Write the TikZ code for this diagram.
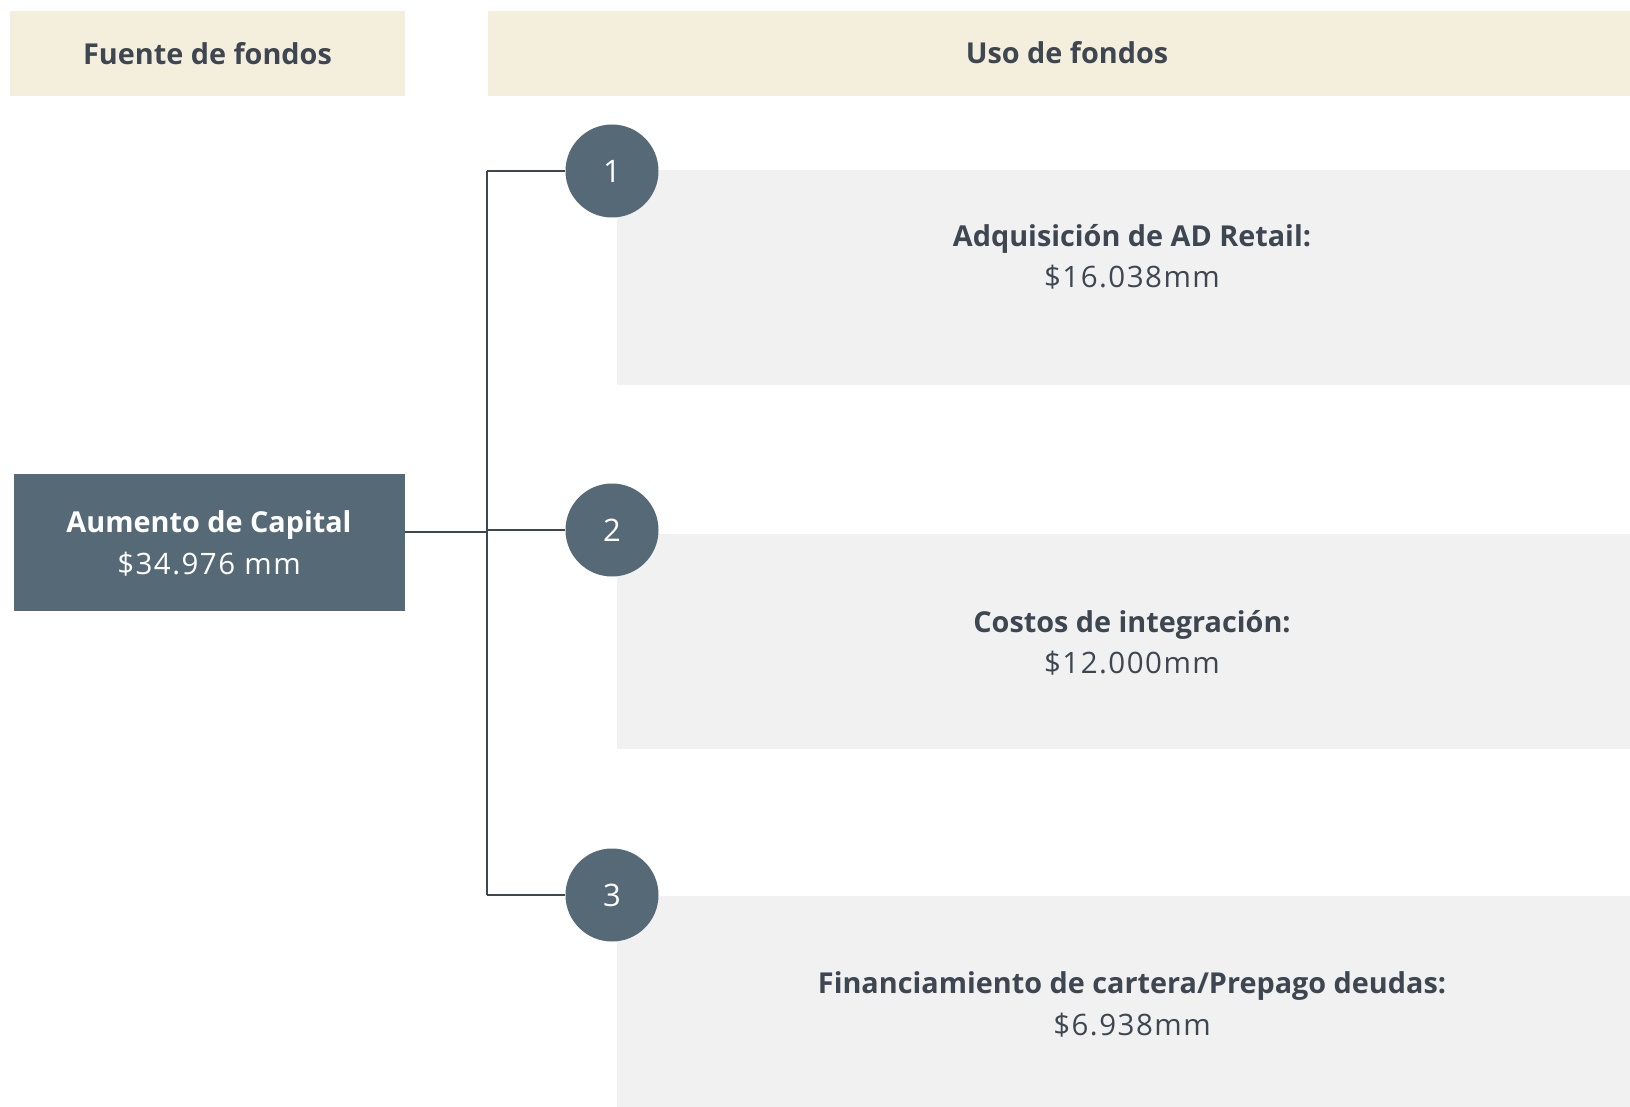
\documentclass[tikz,border=0pt]{standalone}
\usepackage{fontspec}
\setmainfont{Open Sans}
\newfontfamily\numfont[LetterSpace=5]{Open Sans}
\usepackage{tikz}
\definecolor{slate}{HTML}{566977}
\definecolor{ink}{HTML}{3E4751}
\definecolor{beige}{HTML}{F4EEDD}
\definecolor{pale}{HTML}{F1F1F1}
\tikzstyle{hdr}=[rectangle, fill=beige, inner sep=0pt]
\tikzstyle{usebox}=[rectangle, fill=pale, inner sep=0pt, minimum width=1030pt, minimum height=215pt]
\tikzstyle{cnum}=[circle, fill=slate, text=white, minimum size=93pt, inner sep=0pt, font=\fontsize{31}{31}\selectfont]
\tikzstyle{ttl}=[anchor=base, text=ink, inner sep=0pt, font=\fontsize{28.8}{29}\selectfont\bfseries]
\tikzstyle{val}=[anchor=base, text=ink, inner sep=0pt, font=\fontsize{29.5}{30}\numfont]
\tikzstyle{conn}=[draw=ink, line width=2pt]

\begin{document}
\begin{tikzpicture}[x=1pt, y=-1pt]
\useasboundingbox (0,0) rectangle (1630,1107);

% column headers
\node[hdr, minimum width=395pt, minimum height=85.5pt] (hsrc) at (207.5,53.5) {};
\node[ttl] at (207.5,65) {Fuente de fondos};
\node[hdr, minimum width=1162.5pt, minimum height=85.5pt] (huse) at (1068.75,53.5) {};
\node[ttl] at (1067,64) {Uso de fondos};

% source
\node[rectangle, fill=slate, inner sep=0pt, minimum width=391pt, minimum height=136.5pt] (src) at (209.25,542.25) {};
\node[ttl, text=white] at (209,532.3) {Aumento de Capital};
\node[val, text=white] at (209,574.5) {\$34.976 mm};

% uses
\node[usebox] (u1) at (1132,277.5) {};
\node[usebox] (u2) at (1132,641.5) {};
\node[usebox] (u3) at (1132,1003.5) {};

\node[ttl] (t1) at (1132,246.7) {Adquisición de AD Retail:};
\node[val] (v1) at (1132,287.5) {\$16.038mm};
\node[ttl] (t2) at (1132,632.3) {Costos de integración:};
\node[val] (v2) at (1132,673) {\$12.000mm};
\node[ttl] (t3) at (1132,993.2) {Financiamiento de cartera/Prepago deudas:};
\node[val] (v3) at (1132,1035) {\$6.938mm};

% connectors
\draw[conn] (src.east |- 0,532) -- (huse.west |- 0,532);
\draw[conn] (huse.west |- 0,171) -- (huse.west |- 0,895);

\node[cnum] (c1) at (612,171) {1};
\node[cnum] (c2) at (612,530) {2};
\node[cnum] (c3) at (612,895) {3};

\draw[conn] (c1.west) -- (c1.west -| huse.west);
\draw[conn] (c2.west) -- (c2.west -| huse.west);
\draw[conn] (c3.west) -- (c3.west -| huse.west);
\end{tikzpicture}
\end{document}
